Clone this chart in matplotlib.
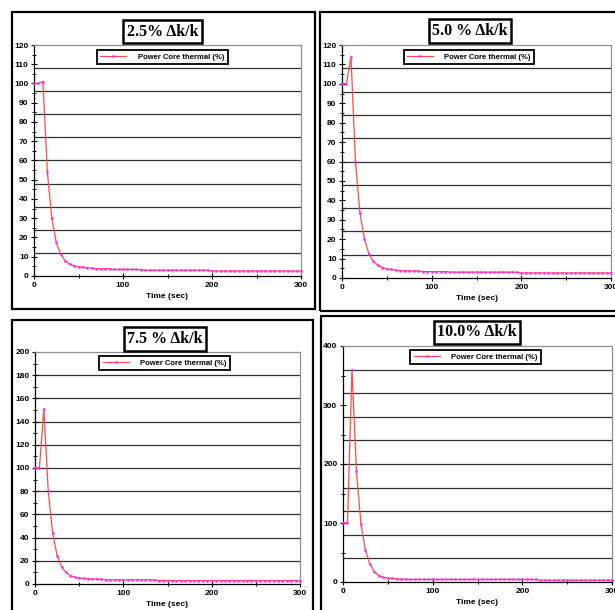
import matplotlib
matplotlib.use("Agg")
import matplotlib.pyplot as plt
from matplotlib.patches import Rectangle
from matplotlib.ticker import MultipleLocator
import numpy as np

# sample times (sec), one point every 5 s
time_s = np.arange(0, 305, 5)

power_25 = [100, 100, 101, 54, 30, 17.5, 11.3, 8.0, 6.2, 5.3, 4.8, 4.5, 4.3, 4.1, 3.8, 3.8,
            3.8, 3.7, 3.4, 3.4, 3.4, 3.4, 3.4, 3.4, 3.3, 3.0, 3.0, 3.0, 3.0, 3.0, 3.0, 3.0,
            3.0, 3.0, 3.0, 3.0, 3.0, 3.0, 3.0, 3.0, 2.6, 2.6, 2.6, 2.6, 2.6, 2.6, 2.6, 2.6,
            2.6, 2.6, 2.6, 2.6, 2.6, 2.6, 2.6, 2.6, 2.6, 2.6, 2.6, 2.6, 2.6]
power_50 = [100, 100, 114, 60, 33.5, 20, 12.5, 8.6, 6.5, 5.4, 4.8, 4.4, 4.1, 3.8, 3.7, 3.7,
            3.7, 3.6, 3.3, 3.3, 3.3, 3.3, 3.3, 3.3, 3.0, 3.0, 3.0, 3.0, 3.0, 3.0, 3.0, 3.0,
            3.0, 3.0, 3.0, 3.0, 3.0, 3.0, 3.0, 3.0, 2.6, 2.6, 2.6, 2.6, 2.6, 2.6, 2.6, 2.6,
            2.6, 2.6, 2.6, 2.6, 2.6, 2.6, 2.6, 2.6, 2.6, 2.6, 2.6, 2.6, 2.6]
power_75 = [100, 100, 151, 80, 44, 24.5, 15, 10, 7.3, 5.9, 5.2, 4.8, 4.5, 4.3, 4.2, 4.1,
            3.6, 3.6, 3.6, 3.6, 3.6, 3.6, 3.6, 3.6, 3.6, 3.6, 3.6, 3.6, 3.0, 3.0, 3.0, 3.0,
            3.0, 3.0, 3.0, 3.0, 3.0, 3.0, 3.0, 3.0, 3.0, 3.0, 3.0, 3.0, 3.0, 3.0, 3.0, 3.0,
            3.0, 3.0, 3.0, 3.0, 3.0, 3.0, 3.0, 3.0, 3.0, 3.0, 3.0, 3.0, 3.0]
power_100 = [100, 100, 360, 188, 99, 54, 30.5, 17.5, 11, 8, 6.5, 6, 5.5, 5, 4.3, 4.3,
             4.3, 4.3, 4.3, 4.3, 4.3, 4.3, 4.3, 4.3, 4.3, 4.3, 4.3, 4.3, 4.3, 4.3, 4.3, 4.3,
             4.3, 4.3, 4.3, 4.3, 4.3, 4.3, 4.3, 4.3, 4.3, 4.3, 4.3, 4.3, 3.0, 3.0, 3.0, 3.0,
             3.0, 3.0, 3.0, 3.0, 3.0, 3.0, 3.0, 3.0, 3.0, 3.0, 3.0, 3.0, 3.0]

titles = ["2.5% \u0394k/k", "5.0 % \u0394k/k", "7.5 % \u0394k/k", "10.0% \u0394k/k"]
series = [power_25, power_50, power_75, power_100]
y_max = [120, 120, 200, 400]
y_major = [10, 10, 20, 100]
y_minor = [5, 5, 10, 50]
grid_levels = [
    [12, 24, 36, 48, 60, 72, 84, 96, 108],
    [12, 24, 36, 48, 60, 72, 84, 96, 108],
    [20, 40, 60, 80, 100, 120, 140, 160, 180],
    [40, 80, 120, 160, 200, 240, 280, 320, 360],
]
x_ticks = [0, 100, 200, 300]
legend_label = "Power Core thermal (%)"

W, H = 615, 610

# pixel boxes (x0, y0, x1, y1)
axes_px = [(34, 45, 301, 276), (342, 45, 611, 278), (35, 352, 300, 584), (343, 346, 612, 582)]
frame_px = [(12, 12, 315, 309), (320, 12, 640, 311), (12, 320, 313, 640), (321, 316, 640, 640)]
title_px = [(162.5, 31.5), (470, 31), (165, 339), (477, 332.5)]
legend_anchor = [(0.48, 0.978), (0.472, 0.979), (0.49, 0.983), (0.494, 0.983)]

sans = "Liberation Sans"


def rect(x0, y0, x1, y1):
    return [x0 / W, 1 - y1 / H, (x1 - x0) / W, (y1 - y0) / H]


fig = plt.figure(figsize=(W / 100, H / 100), dpi=100)
fig.patch.set_facecolor("white")

for i in range(4):
    fx0, fy0, fx1, fy1 = frame_px[i]
    fig.add_artist(Rectangle((fx0 / W, 1 - fy1 / H), (fx1 - fx0) / W, (fy1 - fy0) / H,
                             transform=fig.transFigure, fill=False, ec="black", lw=1.6))

    ax = fig.add_axes(rect(*axes_px[i]))
    for g in grid_levels[i]:
        ax.axhline(g, color="#303030", lw=0.9, zorder=1)
    ax.plot(time_s, series[i], color="#ff4a4a", lw=0.9, marker="s", ms=1.3,
            mfc="#ff22ff", mec="#ff22ff", mew=0.3, label=legend_label, zorder=3,
            clip_on=False)

    ax.set_xlim(0, 300)
    ax.set_ylim(0, y_max[i])
    ax.set_xticks(x_ticks)
    ax.xaxis.set_minor_locator(MultipleLocator(50))
    ax.yaxis.set_major_locator(MultipleLocator(y_major[i]))
    ax.yaxis.set_minor_locator(MultipleLocator(y_minor[i]))
    ax.tick_params(which="major", direction="inout", length=4, width=0.8, labelsize=6, pad=2)
    ax.tick_params(which="minor", direction="inout", length=3, width=0.7)
    for lab in ax.get_xticklabels() + ax.get_yticklabels():
        lab.set_fontfamily(sans)
        lab.set_fontweight("bold")

    ax.spines["left"].set_color("black")
    ax.spines["bottom"].set_color("black")
    ax.spines["top"].set_color("#909090")
    ax.spines["right"].set_color("#909090")
    for s in ax.spines.values():
        s.set_linewidth(0.9)

    ax.set_xlabel("Time (sec)", fontfamily=sans, fontweight="bold", fontsize=6, labelpad=3)

    leg = ax.legend(loc="upper center", bbox_to_anchor=legend_anchor[i], fancybox=False,
                    edgecolor="black", framealpha=1, numpoints=1, handlelength=3.4,
                    handletextpad=1.5, borderpad=0.45, borderaxespad=0,
                    prop={"family": sans, "weight": "bold", "size": 5.5})
    leg.get_frame().set_linewidth(1.3)

    tx, ty = title_px[i]
    fig.text(tx / W, 1 - ty / H, titles[i], ha="center", va="center",
             fontfamily="Liberation Serif", fontweight="bold", fontsize=11.5,
             bbox=dict(boxstyle="square,pad=0.22", fc="white", ec="black", lw=1.8))

fig.savefig("out.png", dpi=100)
